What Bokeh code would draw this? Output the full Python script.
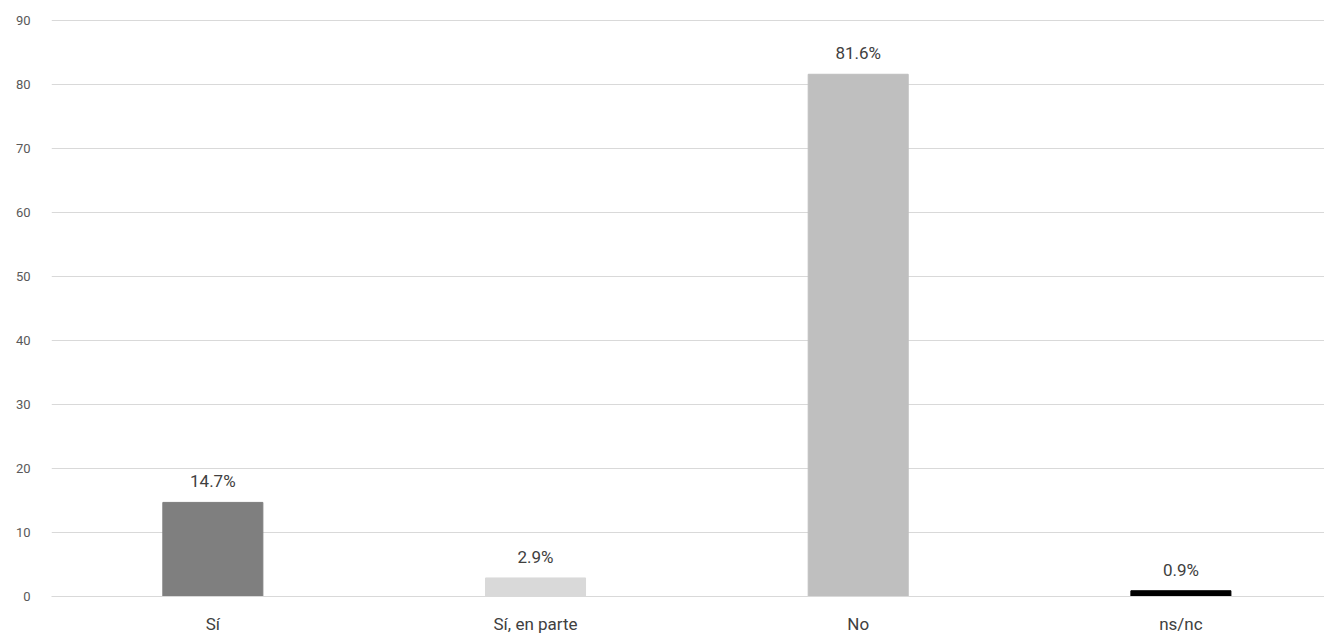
from bokeh.plotting import figure
from bokeh.models import ColumnDataSource, Range1d, FixedTicker, LabelSet
from bokeh.core.properties import value
from bokeh.embed import file_html
from bokeh.resources import INLINE

categories = ["Sí", "Sí, en parte", "No", "ns/nc"]
values = [14.7, 2.9, 81.6, 0.9]
labels = ["14.7%", "2.9%", "81.6%", "0.9%"]
colors = ["#7f7f7f", "#d9d9d9", "#bfbfbf", "#000000"]
y_ticks = [0, 10, 20, 30, 40, 50, 60, 70, 80, 90]

FONT = "Roboto"

xpos = [i + 0.5 for i in range(len(categories))]
src = ColumnDataSource(dict(x=xpos, top=values, color=colors, label=labels))

p = figure(width=1324, height=636, output_backend="svg", toolbar_location=None,
           x_range=Range1d(0, 3.945), y_range=Range1d(0, 90.47),
           min_border_left=51, min_border_right=0, min_border_top=17, min_border_bottom=40)
p.outline_line_color = None

p.vbar(x="x", top="top", bottom=0, width=0.31, color="color", source=src)

p.add_layout(LabelSet(x="x", y="top", text="label", source=src, text_align="center",
                      text_baseline="bottom", y_offset=11, text_font=value(FONT),
                      text_font_size=value("17px"), text_color=value("#404040")))

p.xaxis.ticker = FixedTicker(ticks=xpos)
p.xaxis.major_label_overrides = {x: c for x, c in zip(xpos, categories)}
p.xaxis.major_tick_line_color = None
p.xaxis.minor_tick_line_color = None
p.xaxis.axis_line_color = "#d9d9d9"
p.xaxis.major_label_text_font = FONT
p.xaxis.major_label_text_font_size = "17px"
p.xaxis.major_label_text_color = "#404040"
p.xaxis.major_label_standoff = 11

p.yaxis.ticker = FixedTicker(ticks=y_ticks)
p.yaxis.axis_line_color = None
p.yaxis.major_tick_line_color = None
p.yaxis.minor_tick_line_color = None
p.yaxis.major_label_text_font = FONT
p.yaxis.major_label_text_font_size = "13px"
p.yaxis.major_label_text_color = "#595959"
p.yaxis.major_label_standoff = 15

p.xgrid.grid_line_color = None
p.ygrid.grid_line_color = "#d9d9d9"
p.ygrid.ticker = FixedTicker(ticks=y_ticks)

open("out.html", "w").write(file_html(p, INLINE))
